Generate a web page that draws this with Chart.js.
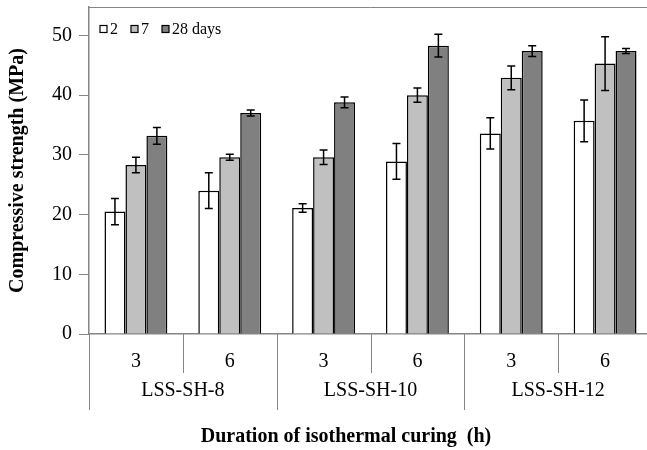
<!DOCTYPE html>
<html>
<head>
<meta charset="utf-8">
<script src="https://cdn.jsdelivr.net/npm/chart.js@4.4.1/dist/chart.umd.min.js"></script>
<style>
  html, body { margin: 0; padding: 0; background: #fff; overflow: hidden; }
  #wrap { width: 653px; height: 450px; position: relative; }
</style>
</head>
<body>
<div id="wrap"><canvas id="chart"></canvas></div>
<script>
// hours of curing for each bar group, and the mix each pair belongs to
const hours = ["3", "6", "3", "6", "3", "6"];
const mixes = ["LSS-SH-8", "LSS-SH-10", "LSS-SH-12"];
const ages = ["2", "7", "28 days"];

// compressive strength (MPa)
const day2 = [20.5, 24.0, 21.1, 28.9, 33.6, 35.7];
const day7 = [28.3, 29.6, 29.6, 40.0, 42.9, 45.3];
const day28 = [33.2, 37.0, 38.8, 48.3, 47.4, 47.4];

// error bar half-lengths
const err2 = [2.2, 3.0, 0.7, 3.0, 2.6, 3.5];
const err7 = [1.3, 0.5, 1.2, 1.2, 2.0, 4.5];
const err28 = [1.4, 0.5, 0.9, 1.9, 0.9, 0.4];

const yTicks = [0, 10, 20, 30, 40, 50];

const serif = "'Liberation Serif', 'Times New Roman', serif";
const axisGray = "#868686";

const errorBars = {
  id: "errorBars",
  afterDatasetsDraw(chart) {
    const ctx = chart.ctx;
    const y = chart.scales.y;
    ctx.save();
    ctx.strokeStyle = "#000";
    ctx.lineWidth = 1.5;
    chart.data.datasets.forEach((ds, di) => {
      const meta = chart.getDatasetMeta(di);
      meta.data.forEach((bar, i) => {
        const v = ds.data[i], e = ds.errors[i];
        const top = y.getPixelForValue(v + e);
        const bot = y.getPixelForValue(v - e);
        ctx.beginPath();
        ctx.moveTo(bar.x, top); ctx.lineTo(bar.x, bot);
        ctx.moveTo(bar.x - 4, top); ctx.lineTo(bar.x + 4, top);
        ctx.moveTo(bar.x - 4, bot); ctx.lineTo(bar.x + 4, bot);
        ctx.stroke();
      });
    });
    ctx.restore();
  }
};

// legend in one row inside the plot, top left
const rowLegend = {
  id: "rowLegend",
  afterDraw(chart) {
    const ctx = chart.ctx;
    const area = chart.chartArea;
    let px = area.left + 11;
    const cy = 29;
    ctx.save();
    ctx.font = "16px " + serif;
    ctx.textBaseline = "middle";
    ctx.textAlign = "left";
    chart.data.datasets.forEach(ds => {
      ctx.fillStyle = ds.backgroundColor;
      ctx.fillRect(px, cy - 3.5, 7, 7);
      ctx.strokeStyle = "#000";
      ctx.lineWidth = 1.2;
      ctx.strokeRect(px, cy - 3.5, 7, 7);
      ctx.fillStyle = "#000";
      ctx.fillText(ds.label, px + 10, cy + 1);
      px += 10 + ctx.measureText(ds.label).width + 13;
    });
    ctx.restore();
  }
};

// separators, mix names, the frame line on top and the x title
const groupAxis = {
  id: "groupAxis",
  afterDraw(chart) {
    const ctx = chart.ctx;
    const x = chart.scales.x;
    const area = chart.chartArea;
    const half = (x.getPixelForValue(1) - x.getPixelForValue(0)) / 2;
    ctx.save();
    ctx.strokeStyle = axisGray;
    ctx.lineWidth = 1;
    ctx.beginPath();
    ctx.moveTo(area.left, area.top + 0.5);
    ctx.lineTo(area.right, area.top + 0.5);
    ctx.stroke();
    for (let i = 0; i <= hours.length; i++) {
      const px = Math.round(x.getPixelForValue(i) - half) + 0.5;
      const long = i % 2 === 0;
      ctx.beginPath();
      ctx.moveTo(px, area.bottom);
      ctx.lineTo(px, long ? 410 : 373);
      ctx.stroke();
    }
    ctx.fillStyle = "#000";
    ctx.font = "20px " + serif;
    ctx.textAlign = "center";
    ctx.textBaseline = "middle";
    mixes.forEach((m, g) => {
      const cx = (x.getPixelForValue(g * 2) + x.getPixelForValue(g * 2 + 1)) / 2;
      ctx.fillText(m, cx, 391);
    });
    ctx.font = "bold 20px " + serif;
    ctx.fillText("Duration of isothermal curing  (h)", 346, 437);
    ctx.restore();
  }
};

new Chart(document.getElementById("chart"), {
  type: "bar",
  data: {
    labels: hours,
    datasets: [
      { label: ages[0], data: day2, errors: err2, backgroundColor: "#ffffff", borderColor: "#000", borderWidth: 1.5 },
      { label: ages[1], data: day7, errors: err7, backgroundColor: "#c0c0c0", borderColor: "#000", borderWidth: 1.5 },
      { label: ages[2], data: day28, errors: err28, backgroundColor: "#808080", borderColor: "#000", borderWidth: 1.5 }
    ]
  },
  options: {
    responsive: true,
    maintainAspectRatio: false,
    animation: false,
    layout: { padding: { top: 7, right: 1, left: 0, bottom: 0 } },
    datasets: { bar: { categoryPercentage: 0.67, barPercentage: 1.0 } },
    plugins: {
      legend: { display: false },
      tooltip: { enabled: false }
    },
    scales: {
      x: {
        grid: { display: false },
        border: { color: axisGray, width: 1.5 },
        ticks: { color: "#000", padding: 8, font: { family: serif, size: 20 } },
        afterFit(scale) { scale.height = 116; scale.paddingLeft = 0; scale.paddingRight = 0; }
      },
      y: {
        min: 0,
        max: 54.77,
        afterBuildTicks(scale) { scale.ticks = yTicks.map(v => ({ value: v })); },
        grid: { drawOnChartArea: false, drawTicks: true, tickLength: 10, color: axisGray },
        border: { color: axisGray, width: 1.5 },
        ticks: { color: "#000", padding: 7, font: { family: serif, size: 20 } },
        title: {
          display: true, text: "Compressive strength (MPa)", color: "#000",
          font: { family: serif, size: 20, weight: "bold" }, padding: 6
        },
        afterFit(scale) { scale.width = 89; scale.paddingTop = 0; scale.paddingBottom = 0; }
      }
    }
  },
  plugins: [errorBars, rowLegend, groupAxis]
});
</script>
</body>
</html>
